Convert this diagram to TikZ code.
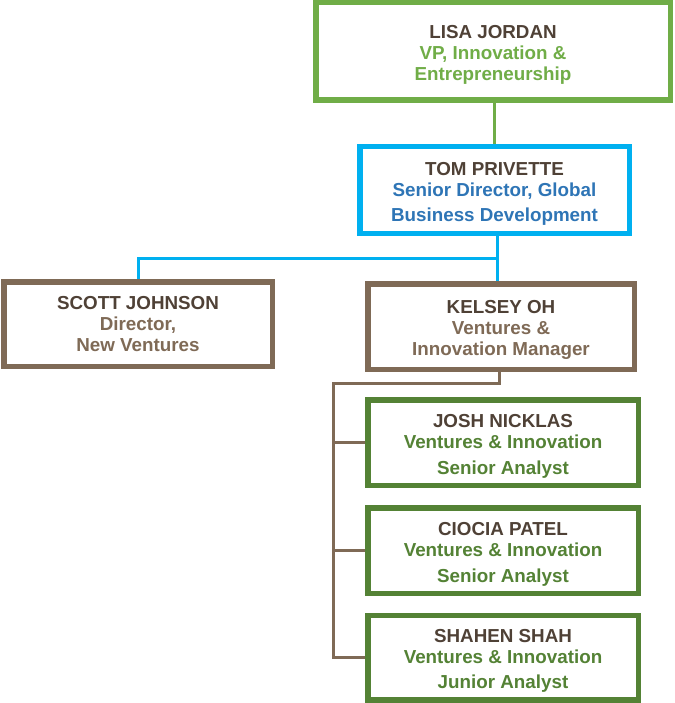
\documentclass[tikz,border=0pt]{standalone}
\usepackage{fontspec}
\setmainfont{Liberation Sans}
\definecolor{leafgreen}{HTML}{70AD47}
\definecolor{mossgreen}{HTML}{548235}
\definecolor{skyblue}{HTML}{00B0F0}
\definecolor{steelblue}{HTML}{2E75B6}
\definecolor{bark}{HTML}{7F6A56}
\definecolor{barkdark}{HTML}{4F4136}
% name line of a box, with a strut that sets the text a little lower
\newcommand{\who}[2][20pt]{\textcolor{barkdark}{\rule{0pt}{#1}#2}}
\tikzset{
  box/.style={draw, rectangle, line width=5.5pt, fill=white, align=center,
    font=\bfseries\fontsize{18.8}{21}\selectfont},
  link/.style={line width=3pt},
}
\begin{document}
\begin{tikzpicture}[x=1pt, y=-1pt]
\useasboundingbox (0, 0) rectangle (674, 703);

\node [box, draw=leafgreen, text=leafgreen, minimum width=354.5pt, minimum height=97.5pt] (lisa) at (493, 51.5)
  {\who{LISA JORDAN}\\ VP, Innovation \&\\ Entrepreneurship};
\node [box, draw=skyblue, text=steelblue, minimum width=269.5pt, minimum height=86.5pt] (tom) at (494.5, 190)
  {\who{TOM PRIVETTE}\\ Senior Director, Global\\[4pt] Business Development};

\node [box, draw=bark, text=bark, minimum width=268.5pt, minimum height=84.5pt] (scott) at (138, 324)
  {\who[14pt]{SCOTT JOHNSON}\\ Director,\\ New Ventures};
\node [box, draw=bark, text=bark, minimum width=266.5pt, minimum height=85.5pt] (kelsey) at (501, 326.5)
  {\who{KELSEY OH}\\ Ventures \&\\ Innovation Manager};

\node [box, draw=mossgreen, text=mossgreen, minimum width=270.5pt, minimum height=85.5pt] (josh) at (503, 442.5)
  {\who{JOSH NICKLAS}\\ Ventures \& Innovation\\[5pt] Senior Analyst};
\node [box, draw=mossgreen, text=mossgreen, minimum width=270.5pt, minimum height=85.5pt] (ciocia) at (503, 550.5)
  {\who{CIOCIA PATEL}\\ Ventures \& Innovation\\[5pt] Senior Analyst};
\node [box, draw=mossgreen, text=mossgreen, minimum width=270.5pt, minimum height=84.5pt] (shahen) at (503, 657.5)
  {\who{SHAHEN SHAH}\\ Ventures \& Innovation\\[4pt] Junior Analyst};

% connectors
\draw [link, leafgreen] (tom.north |- lisa.south) -- (tom.north);

\coordinate (split) at (497.5, 258.5);
\draw [link, skyblue] (tom.south -| split) -- (kelsey.north -| split);
\draw [link, skyblue] (split) -| (scott.north);

\coordinate (fork) at (499.5, 383);
\coordinate (spine) at (333, 383);
\draw [link, bark] (kelsey.south -| fork) -- (fork) -- (spine) |- (shahen.west);
\draw [link, bark] (spine |- josh.west) -- (josh.west);
\draw [link, bark] (spine |- ciocia.west) -- (ciocia.west);
\end{tikzpicture}
\end{document}
